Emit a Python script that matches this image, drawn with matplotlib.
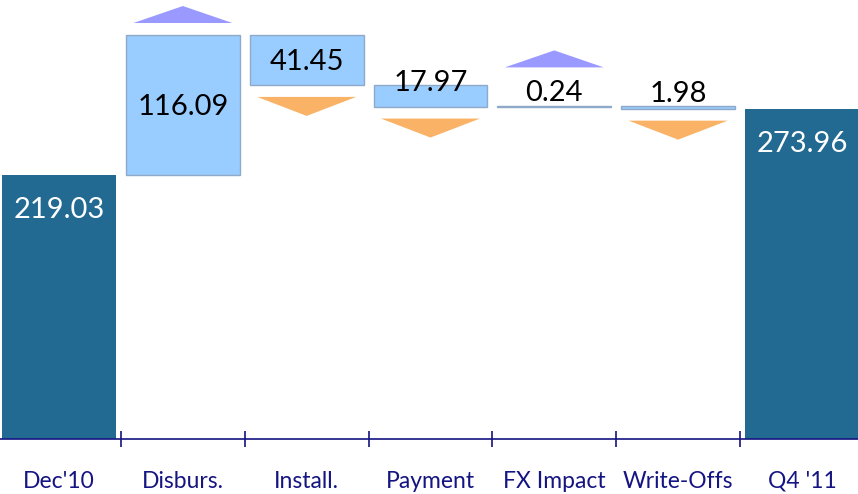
import numpy as np
import matplotlib.pyplot as plt
from matplotlib.patches import Polygon

plt.rcParams['font.family'] = ['Lato', 'DejaVu Sans']

# chart data
categories = ["Dec'10", "Disburs.", "Install.", "Payment", "FX Impact", "Write-Offs", "Q4 '11"]
start_value = 219.03
changes = [116.09, -41.45, -17.97, 0.24, -1.98]
end_value = 273.96

DARK = '#236A93'
LIGHT = '#99CCFF'
LIGHT_EDGE = '#8EAAC8'
UP = '#9999FF'
DOWN = '#FAB366'
NAVY = '#141482'

fig = plt.figure(figsize=(8.58, 4.94), dpi=100)
ax = fig.add_axes([0, 55.5 / 494, 1, 438.5 / 494])
ax.set_xlim(-0.477, 6.453)
ytop = 364.2
ax.set_ylim(0, ytop)
px = ytop / 438.5  # data units per pixel

x = np.arange(len(categories))
w = 0.92

# totals
ax.bar([x[0], x[-1]], [start_value, end_value], width=w, color=DARK, zorder=2)
for xi, v in [(x[0], start_value), (x[-1], end_value)]:
    ax.annotate(f'{v:.2f}', (xi, v), xytext=(0, -31), textcoords='offset points',
                ha='center', va='baseline', color='white', fontsize=21)

# floating changes
level = start_value
for i, d in enumerate(changes):
    xi = x[i + 1]
    lo, hi = min(level, level + d), max(level, level + d)
    ax.bar(xi, hi - lo, bottom=lo, width=w, color=LIGHT, edgecolor=LIGHT_EDGE,
           linewidth=1, zorder=2)
    mid = (lo + hi) / 2
    small = (hi - lo) < 30
    off = 3.6 if small else -7.5
    ax.annotate(f'{abs(d):.2f}', (xi, mid), xytext=(0, off), textcoords='offset points',
                ha='center', va='baseline', color='black', fontsize=21, zorder=3)
    hw = 0.4
    if d > 0:
        base = mid + 39 * px if small else hi + 12 * px
        tri = [(xi - hw, base), (xi + hw, base), (xi, base + 17 * px)]
        ax.add_patch(Polygon(tri, closed=True, color=UP, lw=0, zorder=2))
    else:
        base = lo - 12 * px
        tri = [(xi - hw, base), (xi + hw, base), (xi, base - 19 * px)]
        ax.add_patch(Polygon(tri, closed=True, color=DOWN, lw=0, zorder=2))
    level += d

# axis styling
for s in ['top', 'left', 'right']:
    ax.spines[s].set_visible(False)
ax.spines['bottom'].set_color(NAVY)
ax.spines['bottom'].set_linewidth(1.2)
ax.set_yticks([])
ax.set_xticks(x)
ax.set_xticklabels(categories, fontsize=16.5, color=NAVY)
ax.tick_params(axis='x', which='major', length=0, pad=35.5)
for lbl in ax.get_xticklabels():
    lbl.set_va('baseline')
ax.set_xticks(x[:-1] + 0.5, minor=True)
ax.tick_params(axis='x', which='minor', direction='inout', length=11, width=1.2, color=NAVY)

fig.savefig('out.png', dpi=100)
